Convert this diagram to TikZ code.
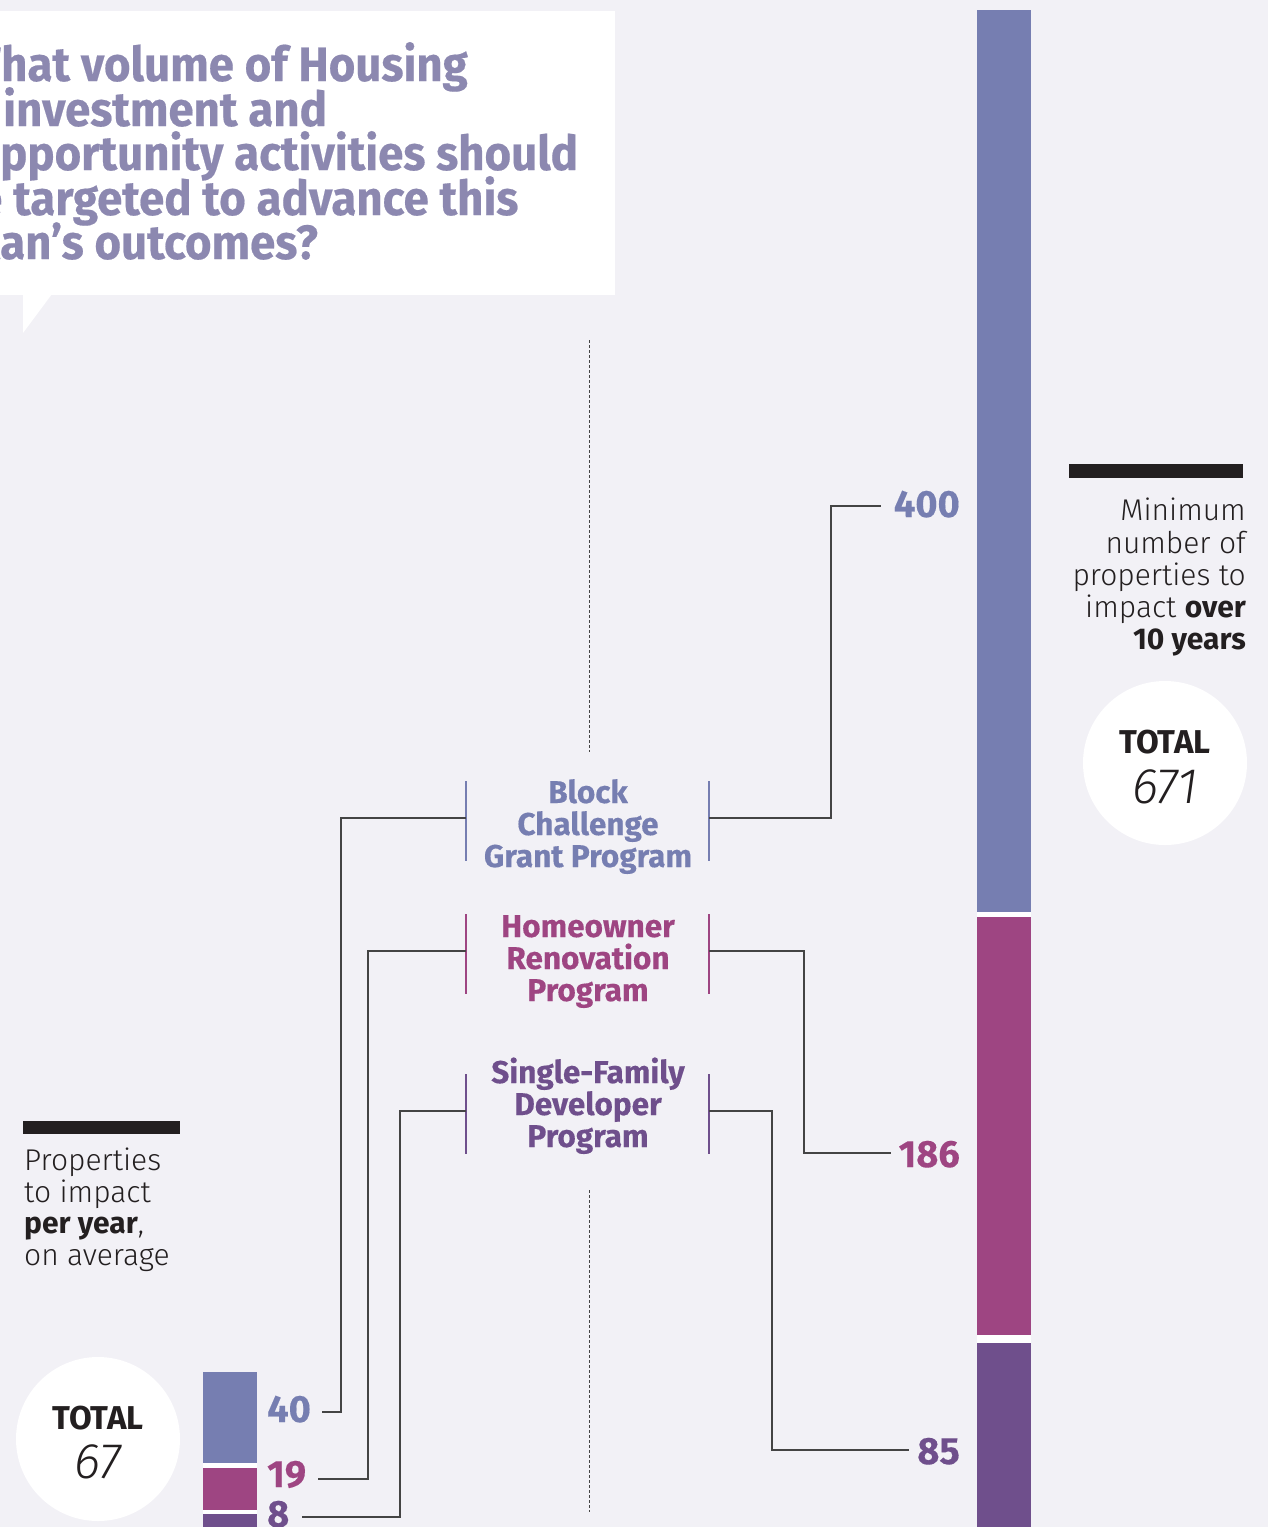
\documentclass[tikz,border=0pt]{standalone}
\usepackage{fontspec}
\setmainfont{Fira Sans}
\newfontfamily\titlefont{Fira Sans}[FakeStretch=0.95, FakeBold=0.4]
\newfontfamily\labfont{Fira Sans}[FakeBold=0.3]
\newfontfamily\lightfont{Fira Sans Light}
\definecolor{bgc}{HTML}{F2F1F6}
\definecolor{ctitle}{HTML}{8C88B0}
\definecolor{cblue}{HTML}{767EB1}
\definecolor{cmag}{HTML}{9E4582}
\definecolor{cpur}{HTML}{6F4F8C}
\definecolor{cblack}{HTML}{231F20}
\definecolor{cline}{HTML}{444444}
\tikzset{
  titleline/.style={anchor=base west, inner sep=0, text=ctitle, font=\titlefont\bfseries\fontsize{48}{48}\selectfont},
  lab/.style={anchor=base, inner sep=0, font=\labfont\bfseries\fontsize{31.5}{32}\selectfont},
  num/.style={inner sep=0, font=\labfont\bfseries\fontsize{38}{38}\selectfont},
  legR/.style={anchor=base east, inner sep=0, text=cblack, font=\lightfont\fontsize{30}{32}\selectfont},
  legL/.style={anchor=base west, inner sep=0, text=cblack, font=\lightfont\fontsize{30}{32}\selectfont},
  conn/.style={draw=cline, line width=1.5},
  brk/.style={line width=2},
  totc/.style={circle, fill=white, minimum size=164, inner sep=0},
  totw/.style={anchor=base, inner sep=0, text=cblack, font=\bfseries\fontsize{33}{33}\selectfont},
  totn/.style={anchor=base, inner sep=0, text=cblack, font=\lightfont\itshape\fontsize{50}{50}\selectfont},
  spine/.style={draw=cline, line width=0.8, dash pattern=on 3pt off 2pt}
}
\begin{document}
\begin{tikzpicture}[x=1pt,y=-1pt]
\clip (0,0) rectangle (1268,1527);
\fill[bgc] (0,0) rectangle (1268,1527);
% title box
\fill[white] (0,11) rectangle (615,295);
\fill[white] (23,294) -- (52,294) -- (23,333) -- cycle;
\node[titleline] (t1) at (1,81) {\llap{W}hat volume of Housing};
\node[titleline] (t2) at (3,126) {investment and};
\node[titleline] (t3) at (0,170) {\llap{o}pportunity activities should};
\node[titleline] (t4) at (13,215) {\llap{be\ }targeted to advance this};
\node[titleline] (t5) at (0,259) {\llap{pl}an’s outcomes?};
% spine
\coordinate (sp1) at (589,340); \coordinate (sp2) at (589,752);
\coordinate (sp3) at (589,1190); \coordinate (sp4) at (589,1512);
\draw[spine] (sp1) -- (sp2);
\draw[spine] (sp3) -- (sp4);
% right bar
\fill[white] (977,10) rectangle (1031,1527);
\fill[cblue] (977,10) rectangle (1031,912);
\fill[cmag] (977,917) rectangle (1031,1335);
\fill[cpur] (977,1343) rectangle (1031,1540);
% left bar
\fill[white] (203,1372) rectangle (257,1527);
\fill[cblue] (203,1372) rectangle (257,1463);
\fill[cmag] (203,1468) rectangle (257,1510);
\fill[cpur] (203,1514) rectangle (257,1540);
% program labels
\node[lab, text=cblue] (bk1) at (588,803) {Block};
\node[lab, text=cblue] (bk2) at (588,835) {Challenge};
\node[lab, text=cblue] (bk3) at (588,867) {Grant Program};
\node[lab, text=cmag] (ho1) at (588,937) {Homeowner};
\node[lab, text=cmag] (ho2) at (588,969) {Renovation};
\node[lab, text=cmag] (ho3) at (588,1001) {Program};
\node[lab, text=cpur] (sf1) at (588,1083) {Single-Family};
\node[lab, text=cpur] (sf2) at (588,1115) {Developer};
\node[lab, text=cpur] (sf3) at (588,1147) {Program};
% brackets
\draw[brk, cblue] (466,781) -- (466,861);
\draw[brk, cblue] (709,781) -- (709,861);
\draw[brk, cmag] (466,914) -- (466,994);
\draw[brk, cmag] (709,914) -- (709,994);
\draw[brk, cpur] (466,1074) -- (466,1154);
\draw[brk, cpur] (709,1074) -- (709,1154);
\coordinate (bkL) at (466,818); \coordinate (bkR) at (709,818);
\coordinate (hoL) at (466,951); \coordinate (hoR) at (709,951);
\coordinate (sfL) at (466,1111); \coordinate (sfR) at (709,1111);
% numbers
\node[num, anchor=base east, text=cblue] (n400) at (960,517) {400};
\node[num, anchor=base east, text=cmag] (n186) at (960,1167) {186};
\node[num, anchor=base east, text=cpur] (n85) at (960,1464) {85};
\node[num, anchor=base west, text=cblue] (n40) at (267,1422) {40};
\node[num, anchor=base west, text=cmag] (n19) at (267,1487) {19};
\node[num, anchor=base west, text=cpur] (n8) at (267,1527) {8};
\coordinate (e400) at (881,506);
\coordinate (e186) at (891,1153);
\coordinate (e85) at (909,1450);
\coordinate (e40) at (322,1412);
\coordinate (e19) at (318,1479);
\coordinate (e8) at (302,1517);
% connectors
\draw[conn] (bkR) -- (831,818) |- (e400);
\draw[conn] (hoR) -- (804,951) |- (e186);
\draw[conn] (sfR) -- (772,1111) |- (e85);
\draw[conn] (bkL) -- (341,818) |- (e40);
\draw[conn] (hoL) -- (368,951) |- (e19);
\draw[conn] (sfL) -- (400,1111) |- (e8);
% right legend
\fill[cblack] (1069,464) rectangle (1243,478);
\node[legR] (r1) at (1246,520) {Minimum};
\node[legR] (r2) at (1246,553) {number of};
\node[legR] (r3) at (1246,585) {properties to};
\node[legR] (r4) at (1246,617) {impact {\normalfont\fontsize{30}{32}\selectfont\bfseries over}};
\node[legR] (r5) at (1246,649) {{\normalfont\fontsize{30}{32}\selectfont\bfseries 10 years}};
\node[totc] (c671) at (1165,763) {};
\node[totw] (tw1) at (1165,753) {TOTAL};
\node[totn] (tn1) at (1165,803) {671};
% left legend
\fill[cblack] (23,1121) rectangle (180,1134);
\node[legL] (l1) at (24,1170) {Properties};
\node[legL] (l2) at (24,1202) {to impact};
\node[legL] (l3) at (24,1233) {{\normalfont\fontsize{30}{32}\selectfont\bfseries per year},};
\node[legL] (l4) at (24,1265) {on average};
\node[totc] (c67) at (98,1439) {};
\node[totw] (tw2) at (98,1429) {TOTAL};
\node[totn] (tn2) at (98,1478) {67};
\end{tikzpicture}
\end{document}
